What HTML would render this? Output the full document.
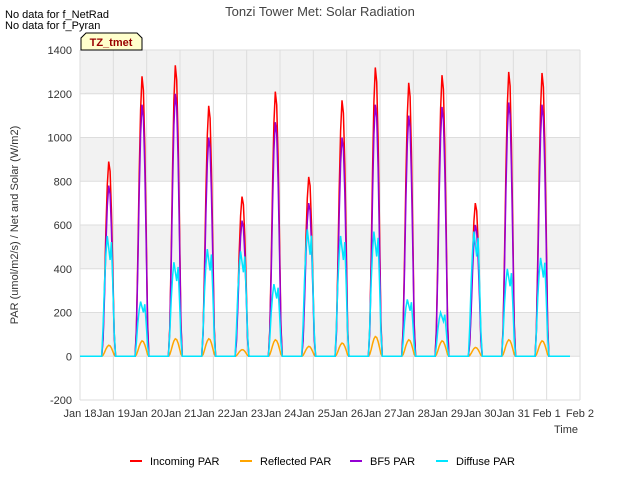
<!DOCTYPE html>
<html><head><meta charset="utf-8"><style>
body{margin:0;background:#fff;font-family:"Liberation Sans",sans-serif}
</style></head><body>
<svg id="c" width="640" height="480" xmlns="http://www.w3.org/2000/svg" font-family="Liberation Sans, sans-serif">
<rect width="640" height="480" fill="#fff"/>
<g id="plot"></g>
<text x="320" y="16" text-anchor="middle" font-size="13" fill="#444">Tonzi Tower Met: Solar Radiation</text>
<text x="5" y="18" font-size="11" fill="#000">No data for f_NetRad</text>
<text x="5" y="29" font-size="11" fill="#000">No data for f_Pyran</text>
<g><path d="M81,50 L81,38 L86,33 L137,33 L142,38 L142,50 Z" fill="#ffffcc" stroke="#000"/><text x="111" y="46" text-anchor="middle" font-size="11" font-weight="bold" fill="#990000">TZ_tmet</text></g>
<text x="18" y="225" transform="rotate(-90 18 225)" text-anchor="middle" font-size="11" fill="#333">PAR (umol/m2/s) / Net and Solar (W/m2)</text>
<text x="566" y="433" text-anchor="middle" font-size="11" fill="#333">Time</text>
<g id="legend"></g>
</svg>
<script>
const days = ["Jan 18","Jan 19","Jan 20","Jan 21","Jan 22","Jan 23","Jan 24","Jan 25","Jan 26","Jan 27","Jan 28","Jan 29","Jan 30","Jan 31","Feb 1","Feb 2"];
const yTicks = [-200,0,200,400,600,800,1000,1200,1400];
const incomingPeak = [890,1280,1330,1145,730,1210,820,1170,1320,1250,1285,700,1300,1295];
const bf5Peak = [780,1150,1200,1000,620,1070,700,1000,1150,1100,1140,600,1160,1150];
const diffusePeak = [550,250,430,490,480,330,580,550,570,260,200,570,400,450];
const reflectedPeak = [50,70,80,80,30,75,45,60,90,75,70,40,75,70];
const profileHours = [-5,-4,-3,-2,-1,0,1,2,3,4,5];
const profile = [0,0.1,0.35,0.65,0.88,1,0.95,0.75,0.45,0.12,0];
const diffuseProfile = [0,0.25,0.6,0.85,1,0.9,0.8,0.95,0.6,0.2,0];
const NS="http://www.w3.org/2000/svg";
const L=80,R=580,T=50,B=400;
const x=d=>L+(R-L)*d/15;
const y=v=>B-(v+200)/1600*(B-T);
const plot=document.getElementById('plot');
function el(t,a,p){const e=document.createElementNS(NS,t);for(const k in a)e.setAttribute(k,a[k]);(p||plot).appendChild(e);return e;}
el('rect',{x:L,y:T,width:R-L,height:B-T,fill:'#fff'});
for(let i=0;i<yTicks.length-1;i++){if(i%2==1){const r=el('rect',{x:L,y:y(yTicks[i+1]),width:R-L,height:y(yTicks[i])-y(yTicks[i+1]),fill:'#f2f2f2'});}}
yTicks.forEach(v=>{const g=el('line',{x1:L,x2:R,y1:y(v),y2:y(v),stroke:'#ddd'});
const t=el('text',{x:L-8,y:y(v)+4,'text-anchor':'end','font-size':11,fill:'#333'});t.textContent=v;});
days.forEach((d,i)=>{const g=el('line',{x1:x(i),x2:x(i),y1:T,y2:B,stroke:'#ddd'});
const t=el('text',{x:x(i),y:B+17,'text-anchor':'middle','font-size':11,fill:'#333'});t.textContent=d;});
function series(peaks,prof,color,name){let pts=[[0,0]];peaks.forEach((p,d)=>{const noon=d+0.86;profileHours.forEach((h,j)=>pts.push([noon+h/24,p*prof[j]]));});pts.push([14.7,0]);
const s=el('polyline',{points:pts.map(q=>x(q[0]).toFixed(1)+','+y(q[1]).toFixed(1)).join(' '),fill:'none',stroke:color,'stroke-width':1.5});
}
series(incomingPeak,profile,'#ff0000','incoming-par-line');
series(reflectedPeak,profile,'#ffa500','reflected-par-line');
series(bf5Peak,profile,'#9400d3','bf5-par-line');
series(diffusePeak,diffuseProfile,'#00e5ff','diffuse-par-line');
const lg=document.getElementById('legend');
[["Incoming PAR","#ff0000",130],["Reflected PAR","#ffa500",240],["BF5 PAR","#9400d3",350],["Diffuse PAR","#00e5ff",436]].forEach(e=>{
const g=el('g',{},lg);
el('line',{x1:e[2],x2:e[2]+12,y1:461,y2:461,stroke:e[1],'stroke-width':2},g);
const t=el('text',{x:e[2]+20,y:465,'font-size':11,fill:'#000'},g);t.textContent=e[0];});
</script>
</body></html>
